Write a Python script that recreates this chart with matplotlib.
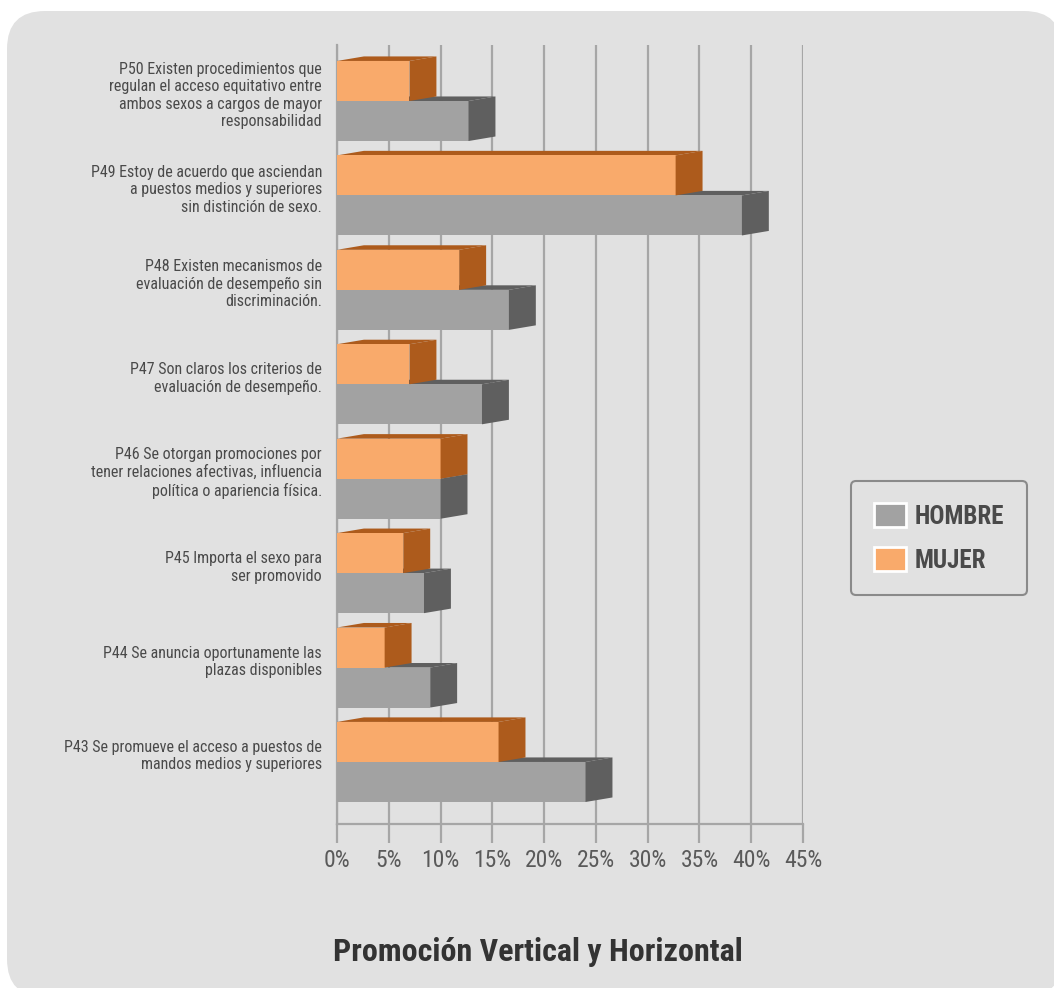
import numpy as np
import matplotlib.pyplot as plt
from matplotlib.patches import FancyBboxPatch, Polygon, Patch

# survey items, bottom to top
preguntas = [
    "P43 Se promueve el acceso a puestos de\nmandos medios y superiores",
    "P44 Se anuncia oportunamente las\nplazas disponibles",
    "P45 Importa el sexo para\nser promovido",
    "P46 Se otorgan promociones por\ntener relaciones afectivas, influencia\npolítica o apariencia física.",
    "P47 Son claros los criterios de\nevaluación de desempeño.",
    "P48 Existen mecanismos de\nevaluación de desempeño sin\ndiscriminación.",
    "P49 Estoy de acuerdo que asciendan\na puestos medios y superiores\nsin distinción de sexo.",
    "P50 Existen procedimientos que\nregulan el acceso equitativo entre\nambos sexos a cargos de mayor\nresponsabilidad",
]
hombre = [24.0, 9.0, 8.4, 10.0, 14.0, 16.6, 39.1, 12.7]
mujer = [15.6, 4.6, 6.4, 10.0, 7.0, 11.8, 32.7, 7.0]
ticks = [0, 5, 10, 15, 20, 25, 30, 35, 40, 45]
titulo = "Promoción Vertical y Horizontal"

NARROW = ['Roboto Condensed', 'PT Sans Narrow', 'Liberation Sans', 'DejaVu Sans']
BG = '#e1e1e1'
c_h, c_h2 = '#a2a2a2', '#5f5f5f'
c_m, c_m2 = '#f9aa6b', '#ad5b1c'

W, H = 1054, 988
fig = plt.figure(figsize=(W / 100, H / 100), dpi=100, facecolor='white')

# rounded grey panel behind everything
bg = fig.add_axes([0, 0, 1, 1], zorder=0)
bg.set_xlim(0, W)
bg.set_ylim(H, 0)
bg.axis('off')
bg.add_patch(FancyBboxPatch((7, 11), 1055, 986, boxstyle='round,pad=0,rounding_size=38',
                            facecolor=BG, edgecolor='none'))

x0, x1 = 337, 803
y0, y1 = 45, 824
ax = fig.add_axes([x0 / W, 1 - y1 / H, (x1 - x0) / W, (y1 - y0) / H], zorder=1)
ax.set_facecolor('none')
ax.set_xlim(0, 45)
ax.set_ylim(-0.657, 7.593)

y = np.arange(len(preguntas))
h = 0.424
dx = 2.6     # depth of the 3d look, in %
dy = 0.048   # depth, in category units


def bars3d(vals, ys, front, dark, z):
    ax.barh(ys, vals, height=h, color=front, edgecolor='none', zorder=z + 1)
    for v, yc in zip(vals, ys):
        yb, yt = yc - h / 2, yc + h / 2
        top = [(0, yt), (dx, yt + dy), (v + dx, yt + dy), (v, yt)]
        side = [(v, yb), (v + dx, yb + dy), (v + dx, yt + dy), (v, yt)]
        ax.add_patch(Polygon(top, closed=True, facecolor=dark, edgecolor='none', zorder=z))
        ax.add_patch(Polygon(side, closed=True, facecolor=dark, edgecolor='none', zorder=z + 1.5))


# grey first, orange sits in front of the grey top faces
bars3d(hombre, y - h / 2, c_h, c_h2, 2)
bars3d(mujer, y + h / 2, c_m, c_m2, 5)

ax.set_xticks(ticks)
ax.set_xticklabels([f"{t}%" for t in ticks], family=NARROW, fontsize=17, color='#5a5a5a')
ax.set_yticks([])
ax.grid(axis='x', color='#a6a6a6', linewidth=1.6, zorder=0)
ax.set_axisbelow(True)
ax.tick_params(axis='x', length=14, width=1.6, color='#a6a6a6', pad=4)
for s in ['top', 'right']:
    ax.spines[s].set_visible(False)
for s in ['left', 'bottom']:
    ax.spines[s].set_color('#a6a6a6')
    ax.spines[s].set_linewidth(1.6)

for yc, txt in zip(y, preguntas):
    ax.text(-1.45, yc + 0.06, txt, ha='right', va='center', multialignment='right',
            family=NARROW, fontsize=11.5, color='#4a4a4a', clip_on=False)

handles = [Patch(facecolor=c_h, edgecolor='white', linewidth=2),
           Patch(facecolor=c_m, edgecolor='white', linewidth=2)]
leg = fig.legend(handles, ['HOMBRE', 'MUJER'], loc='center',
                 bbox_to_anchor=(939 / W, 1 - 538 / H),
                 prop={'family': NARROW, 'size': 18, 'weight': 'bold'},
                 handlelength=1.3, handleheight=1.1, handletextpad=0.35,
                 labelspacing=0.75, borderpad=0.9, borderaxespad=0,
                 fancybox=True, facecolor=BG, edgecolor='#8a8a8a', framealpha=1)
leg.get_frame().set_linewidth(1.5)
leg.set_zorder(5)
for t in leg.get_texts():
    t.set_color('#4a4a4a')

fig.text(538 / W, 1 - 952 / H, titulo, ha='center', va='center', family=NARROW,
         fontsize=23, fontweight='bold', color='#333333')

fig.savefig('out.png', dpi=100, facecolor='white')
